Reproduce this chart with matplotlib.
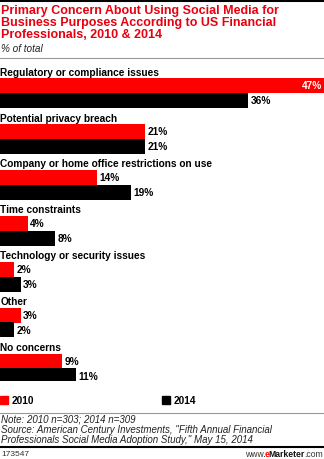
import matplotlib
matplotlib.use("Agg")
import matplotlib.pyplot as plt
from matplotlib.patches import Rectangle

categories = ["Regulatory or compliance issues", "Potential privacy breach",
              "Company or home office restrictions on use", "Time constraints",
              "Technology or security issues", "Other", "No concerns"]
v2010 = [47, 21, 14, 4, 2, 3, 9]
v2014 = [36, 21, 19, 8, 3, 2, 11]
series_names = ["2010", "2014"]

RED = "#ff0000"
TITLE_RED = "#e8000f"
FONT = "Liberation Sans"

W, H = 324, 460
fig = plt.figure(figsize=(W/100, H/100), dpi=100)

def fy(py):
    return 1 - py / H

def fx(px):
    return px / W

# top rule
fig.add_artist(plt.Line2D([0, 1], [fy(1), fy(1)], color="black", lw=2.2, transform=fig.transFigure))
title = "Primary Concern About Using Social Media for\nBusiness Purposes According to US Financial\nProfessionals, 2010 & 2014"
fig.text(fx(1), fy(5), title, color=TITLE_RED, fontsize=9.0, fontweight="bold",
         family=FONT, va="top", ha="left", linespacing=1.0)
fig.text(fx(1), fy(49), "% of total", fontsize=7.2, style="italic", family=FONT,
         va="center", ha="left", color="#222222")
fig.add_artist(plt.Line2D([0, 1], [fy(59), fy(59)], color="#999999", lw=0.8, transform=fig.transFigure))

# bars axes
top, bottom = 60, 60 + 7 * 46
ax = fig.add_axes([0, fy(bottom), 1, (bottom - top) / H])
n = len(categories)
ax.set_xlim(0, 47)
ax.set_ylim(n, 0)
ax.axis("off")

bh = 15 / 46
off = 18.5 / 46
for i, (c, a, b) in enumerate(zip(categories, v2010, v2014)):
    y_red = i + off + bh / 2
    y_blk = i + off + bh * 1.5
    ax.text(0.05, i + 12.5 / 46, c, fontsize=7.3, fontweight="bold", family=FONT,
            va="center", ha="left")
    ax.barh(y_red, a, height=bh, color=RED, edgecolor="none")
    ax.barh(y_blk, b, height=bh, color="black", edgecolor="none")
    if a >= 40:
        ax.text(a - 0.3, y_red, f"{a}%", color="white", fontsize=7.3,
                fontweight="bold", family=FONT, va="center", ha="right")
    else:
        ax.text(a + 0.35, y_red, f"{a}%", color="black", fontsize=7.3,
                fontweight="bold", family=FONT, va="center", ha="left")
    ax.text(b + 0.35, y_blk, f"{b}%", color="black", fontsize=7.3,
            fontweight="bold", family=FONT, va="center", ha="left")

# legend
for x0, col, name in [(0, RED, series_names[0]), (162, "black", series_names[1])]:
    fig.add_artist(Rectangle((fx(x0), fy(405)), fx(8), 8 / H, color=col, transform=fig.transFigure))
    fig.text(fx(x0 + 12), fy(401), name, fontsize=7.3, fontweight="bold", family=FONT,
             va="center", ha="left")

fig.add_artist(plt.Line2D([0, 1], [fy(414), fy(414)], color="#999999", lw=0.8, transform=fig.transFigure))
note = ('Note: 2010 n=303; 2014 n=309\n'
        'Source: American Century Investments, "Fifth Annual Financial\n'
        'Professionals Social Media Adoption Study," May 15, 2014')
fig.text(fx(1), fy(415), note, fontsize=7.0, style="italic", family=FONT,
         va="top", ha="left", color="#222222", linespacing=1.0)
fig.add_artist(plt.Line2D([0, 1], [fy(448), fy(448)], color="black", lw=1.5, transform=fig.transFigure))
fig.text(fx(1), fy(455), "173547", fontsize=6.0, family=FONT, va="center", ha="left", color="#333333")

# www.eMarketer.com, built right-to-left
renderer = fig.canvas.get_renderer()
parts = [(".com", "normal", "#333333"), ("Marketer", "bold", "#111111"),
         ("e", "bold", RED), ("www.", "normal", "#333333")]
xr = 323
for s, wt, col in parts:
    t = fig.text(fx(xr), fy(455), s, fontsize=6.2, family=FONT, fontweight=wt,
                 va="center", ha="right", color=col)
    bb = t.get_window_extent(renderer)
    xr -= bb.width - 0.8

fig.savefig("out.png", dpi=100)
